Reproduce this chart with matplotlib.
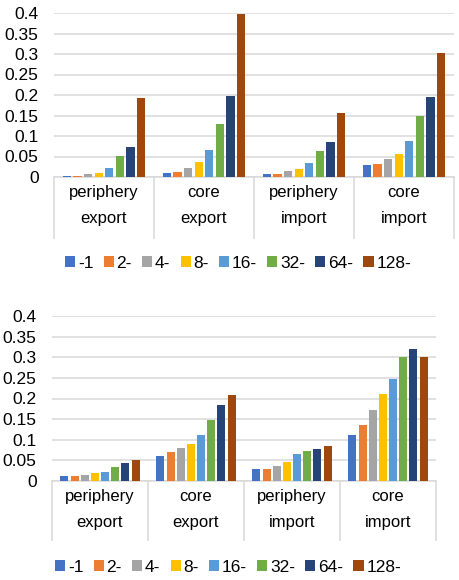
import matplotlib
matplotlib.use("Agg")
import matplotlib.pyplot as plt
import numpy as np
from matplotlib.ticker import FixedLocator, FuncFormatter

plt.rcParams.update(
    {
        "font.family": ["Liberation Sans", "DejaVu Sans"],
        "font.size": 12,
        "text.color": "black",
        "xtick.color": "black",
        "ytick.color": "black",
    }
)

# Data
categories = ["periphery\nexport", "core\nexport", "periphery\nimport", "core\nimport"]
series = ["-1", "2-", "4-", "8-", "16-", "32-", "64-", "128-"]
colors = ["#4472C4", "#ED7D31", "#A5A5A5", "#FFC000",
          "#5B9BD5", "#70AD47", "#264478", "#9E480E"]

# top chart: rows = series, columns = categories
top_vals = [
    [0.003, 0.010, 0.007, 0.029],
    [0.003, 0.012, 0.007, 0.032],
    [0.007, 0.022, 0.015, 0.044],
    [0.010, 0.037, 0.019, 0.056],
    [0.022, 0.066, 0.034, 0.088],
    [0.051, 0.129, 0.063, 0.148],
    [0.073, 0.197, 0.085, 0.195],
    [0.192, 0.397, 0.156, 0.302],
]

bottom_vals = [
    [0.012, 0.060, 0.029, 0.111],
    [0.012, 0.070, 0.029, 0.135],
    [0.0145, 0.080, 0.036, 0.172],
    [0.019, 0.0895, 0.046, 0.210],
    [0.022, 0.111, 0.065, 0.247],
    [0.034, 0.148, 0.073, 0.300],
    [0.0435, 0.184, 0.077, 0.319],
    [0.051, 0.208, 0.085, 0.300],
]

y_ticks = np.arange(0, 0.401, 0.05)

W, H = 460, 580
fig = plt.figure(figsize=(W / 100, H / 100), dpi=100)


def draw_panel(rect, values, legend_center, sep_len):
    left, top, right, bottom = rect
    ax = fig.add_axes([left / W, (H - bottom) / H, (right - left) / W, (bottom - top) / H])
    step = 0.106
    width = 0.083
    x = np.arange(len(categories))
    for i, (name, vals, c) in enumerate(zip(series, values, colors)):
        offs = 0.5 + (i - 3.5) * step
        ax.bar(x + offs, vals, width=width, color=c, label=name, zorder=3)

    ax.set_xlim(0, len(categories))
    ax.set_ylim(0, 0.4)
    ax.yaxis.set_major_locator(FixedLocator(y_ticks))
    ax.yaxis.set_major_formatter(FuncFormatter(lambda v, p: f"{v:.2f}".rstrip("0").rstrip(".")))
    ax.grid(axis="y", color="#D9D9D9", lw=1.1, zorder=0)
    ax.tick_params(axis="y", length=0, pad=11, labelsize=12.5)

    ax.set_xticks(x + 0.5)
    ax.set_xticklabels(categories, linespacing=1.85)
    ax.set_xticks(np.arange(len(categories) + 1), minor=True)
    ax.tick_params(axis="x", which="major", length=0, pad=6, labelsize=12)
    ax.tick_params(axis="x", which="minor", length=sep_len, width=1.1,
                   color="#D9D9D9", direction="out")

    for s in ["top", "right", "left"]:
        ax.spines[s].set_visible(False)
    ax.spines["bottom"].set_color("#D9D9D9")
    ax.spines["bottom"].set_linewidth(1.1)

    handles, labels = ax.get_legend_handles_labels()
    fig.legend(
        handles, labels, loc="center", ncol=8,
        bbox_to_anchor=(legend_center[0] / W, (H - legend_center[1]) / H),
        frameon=False, fontsize=12.5, handlelength=0.58, handleheight=0.58,
        handletextpad=0.15, columnspacing=0.6, borderpad=0,
    )
    return ax


draw_panel((54, 13, 454, 177), top_vals, (238, 263), 62 * 0.72)
draw_panel((52, 316, 436, 481), bottom_vals, (228, 567), 60 * 0.72)

fig.savefig("out.png", dpi=100)
